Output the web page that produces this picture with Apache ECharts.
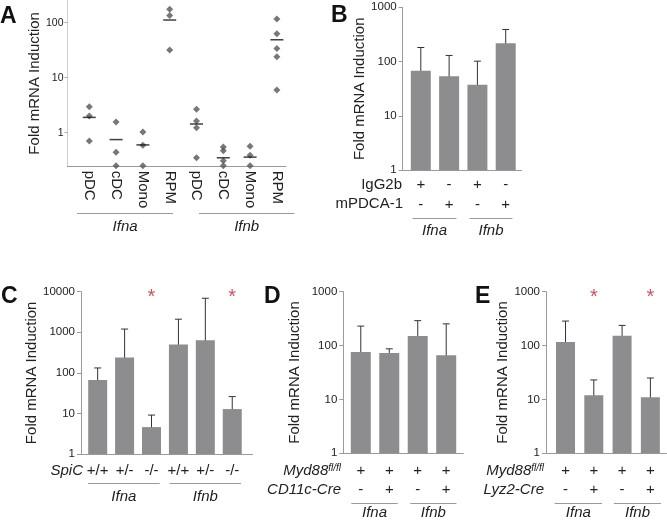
<!DOCTYPE html>
<html><head><meta charset="utf-8">
<script src="https://cdn.jsdelivr.net/npm/echarts@6/dist/echarts.min.js"></script>
<style>html,body{margin:0;padding:0;background:#fff}#c{width:667px;height:520px}</style>
</head><body><div id="c"></div>
<script>
// ---------- DATA ----------
// Panel A (dot plot)
const catsA = ['pDC','cDC','Mono','RPM','pDC','cDC','Mono','RPM'];
const ptsA = [[2.97,2.01,0.71],[1.57,0.44,0.25],[1.03,0.59,0.25],[175,136,32],
              [2.66,1.63,1.23,0.35],[0.55,0.47,0.31,0.25],[0.57,0.39,0.25],[117,63,34,24,6.0]];
const meanA = [1.9,0.75,0.6,112,1.44,0.35,0.36,49];
const ticksA = [1,10,100];
// Panel B
const barB = [68,54,37.5,218];
const loB  = [25,22.6,13.8,123];
const hiB  = [182,130,102,390];
const rowB1 = ['+','-','+','-'];
const rowB2 = ['-','+','-','+'];
// Panel C
const barC = [67,240,4.6,500,640,12.8];
const loC  = [35,49,2.4,124,58,6.5];
const hiC  = [132,1200,9.1,2100,6900,26];
const rowC1 = ['+/+','+/-','-/-','+/+','+/-','-/-'];
const sigC = [0,0,1,0,0,1];
// Panel D
const barD = [76,73,150,66];
const loD  = [25,63,83,17.5];
const hiD  = [230,87,290,253];
const rowD1 = ['+','+','+','+'];
const rowD2 = ['-','+','-','+'];
// Panel E
const barE = [116,12,152,11];
const loE  = [46,6.3,81,4.9];
const hiE  = [285,23,237,25];
const rowE1 = ['+','+','+','+'];
const rowE2 = ['-','+','-','+'];
const sigE = [0,1,0,1];
const genes = ['Ifna','Ifnb'];
const yName = 'Fold mRNA Induction';

// ---------- STYLE ----------
const FONT = "'Liberation Sans', Arial, Helvetica, sans-serif";
const AXIS = '#9a9a9a', BAR = '#8d8d90', TXT = '#222', RED = '#cc2233';

const grids = [], xAxes = [], yAxes = [], series = [], graphics = [];

function makeErr(lo, hi){
  return function(params, api){
    const i = params.dataIndex;
    const x = api.value(0);
    const a = api.coord([x, hi[i]]), b = api.coord([x, lo[i]]);
    const w = 3.5, st = {stroke:'#333', lineWidth:1};
    return {type:'group', children:[
      {type:'line', shape:{x1:a[0],y1:a[1],x2:b[0],y2:b[1]}, style:st},
      {type:'line', shape:{x1:a[0]-w,y1:a[1],x2:a[0]+w,y2:a[1]}, style:st},
      {type:'line', shape:{x1:b[0]-w,y1:b[1],x2:b[0]+w,y2:b[1]}, style:st}
    ]};
  };
}

function barPanel(p){
  const g = grids.length;
  grids.push({left:p.left, top:p.top, width:p.width, height:p.height});
  const idx = p.bars.map((_, i) => i);
  xAxes.push({gridIndex:g, type:'value', min:p.xmin, max:p.xmax,
    axisLine:{show:true, onZero:false, lineStyle:{color:AXIS, width:1}}, axisTick:{show:false}, splitLine:{show:false},
    axisLabel:{customValues:idx, formatter:(v)=>p.rows.map(r=>r[Math.round(v)]).join('\n'),
      fontSize:15, lineHeight:p.lh, margin:p.lm, color:TXT, fontFamily:FONT}});
  yAxes.push({gridIndex:g, type:'log', logBase:10, min:1, max:p.ymax,
    axisLine:{show:true, onZero:false, lineStyle:{color:AXIS, width:1}},
    axisTick:{show:true, length:4, lineStyle:{color:AXIS}}, splitLine:{show:false},
    axisLabel:{fontSize:11.5, margin:6, color:TXT, fontFamily:FONT, formatter:(v)=>String(Math.round(v))},
    name:yName, nameLocation:'middle', nameGap:p.nameGap,
    nameTextStyle:{fontSize:15, color:TXT, fontFamily:FONT}});
  series.push({type:'bar', xAxisIndex:g, yAxisIndex:g, barWidth:p.bw, silent:true,
    itemStyle:{color:BAR}, data:p.bars.map((v,i)=>[i,v])});
  series.push({type:'custom', xAxisIndex:g, yAxisIndex:g, renderItem:makeErr(p.lo, p.hi), silent:true, clip:false,
    data:p.lo.map((l,i)=>[i,l,p.hi[i]])});
  if (p.sig){
    series.push({type:'scatter', xAxisIndex:g, yAxisIndex:g, silent:true, symbolSize:2, clip:false,
      itemStyle:{color:'rgba(0,0,0,0)'},
      label:{show:true, formatter:'*', position:'inside', offset:[0,6], color:RED, fontSize:20, fontFamily:FONT},
      data:p.sig.map((s,i)=>s?[i,p.ymax]:null).filter(d=>d)});
  }
}

function groupLabel(name, x0, x1, yLine, margin){
  const g = grids.length;
  grids.push({left:x0, width:x1-x0, top:yLine-10, height:10});
  xAxes.push({gridIndex:g, type:'category', data:[name], boundaryGap:true,
    axisLine:{show:true, lineStyle:{color:AXIS, width:1}}, axisTick:{show:false},
    axisLabel:{margin:margin, fontSize:15, fontStyle:'italic', color:TXT, fontFamily:FONT}});
  yAxes.push({gridIndex:g, type:'value', show:false});
}

function txt(text, x, y, opt){
  graphics.push({type:'text', x:x, y:y, silent:true, style:Object.assign({text:text, fill:TXT,
    fontSize:15, fontFamily:FONT, align:'right', verticalAlign:'middle'}, opt||{})});
}

// ---------- PANEL A ----------
{
  const g = grids.length;
  grids.push({left:67.5, top:0, width:218.5, height:166.7});
  xAxes.push({gridIndex:g, type:'value', min:-0.813, max:7.34,
    axisLine:{show:true, onZero:false, lineStyle:{color:AXIS, width:1}}, axisTick:{show:false}, splitLine:{show:false},
    axisLabel:{customValues:catsA.map((_,i)=>i), formatter:(v)=>catsA[Math.round(v)], rotate:-90,
      fontSize:15, margin:4, color:TXT, fontFamily:FONT}});
  yAxes.push({gridIndex:g, type:'log', logBase:10, min:0.241, max:259,
    axisLine:{show:true, onZero:false, lineStyle:{color:'#cfcfcf', width:1}},
    axisTick:{show:true, length:3, customValues:ticksA, lineStyle:{color:'#aaa'}}, splitLine:{show:false},
    axisLabel:{customValues:ticksA, fontSize:10.5, margin:4, color:TXT, fontFamily:FONT, formatter:(v)=>String(Math.round(v))},
    name:yName, nameLocation:'middle', nameGap:23, nameTextStyle:{fontSize:15, color:TXT, fontFamily:FONT}});
  const pts = [];
  ptsA.forEach((arr,i)=>arr.forEach(v=>pts.push([i,v])));
  series.push({type:'scatter', xAxisIndex:g, yAxisIndex:g, symbol:'diamond', symbolSize:7, silent:true,
    itemStyle:{color:'#555'}, data:pts});
  series.push({type:'scatter', xAxisIndex:g, yAxisIndex:g, symbol:'rect', symbolSize:[13,1.5], silent:true,
    itemStyle:{color:'#111'}, data:meanA.map((v,i)=>[i,v])});
  groupLabel(genes[0], 77.5, 172.7, 213.3, 6);
  groupLabel(genes[1], 199.3, 294, 213.3, 6);
}

// ---------- PANELS B–E ----------
barPanel({left:402.7, top:7.3, width:119, height:163, xmin:-0.64, xmax:3.565, ymax:1000,
  bars:barB, lo:loB, hi:hiB, rows:[rowB1,rowB2], lh:20, lm:4.2, bw:20, nameGap:30});
groupLabel(genes[0], 413, 456, 218.3, 5);
groupLabel(genes[1], 470, 512, 218.3, 5);
txt('IgG2b', 402, 184.5);
txt('mPDCA-1', 403, 204);

barPanel({left:81, top:291.7, width:171.7, height:162.3, xmin:-0.62, xmax:5.76, ymax:10000,
  bars:barC, lo:loC, hi:hiC, rows:[rowC1], sig:sigC, lh:20, lm:6.7, bw:19, nameGap:41});
groupLabel(genes[0], 88.3, 159.3, 483.7, 6);
groupLabel(genes[1], 170, 240.7, 483.7, 6);
txt('SpiC', 83, 470.7, {fontStyle:'italic'});

barPanel({left:343.3, top:291.7, width:120, height:161.6, xmin:-0.614, xmax:3.6, ymax:1000,
  bars:barD, lo:loD, hi:hiD, rows:[rowD1,rowD2], lh:19.5, lm:7.6, bw:20, nameGap:41});
groupLabel(genes[0], 351.7, 397.3, 505, 2);
groupLabel(genes[1], 410.7, 456, 505, 2);

barPanel({left:546, top:291.7, width:120.5, height:161.6, xmin:-0.69, xmax:3.57, ymax:1000,
  bars:barE, lo:loE, hi:hiE, rows:[rowE1,rowE2], sig:sigE, lh:19.5, lm:7.6, bw:19, nameGap:33.5});
groupLabel(genes[0], 555, 601.7, 505, 2);
groupLabel(genes[1], 614.3, 660.7, 505, 2);

const richMyd = {a:{fontSize:15, fontStyle:'italic', fontFamily:FONT, fill:TXT, color:TXT},
                 b:{fontSize:10, fontStyle:'italic', fontFamily:FONT, fill:TXT, color:TXT, verticalAlign:'top'}};
txt('{a|Myd88}{b|fl/fl}', 341, 470.7, {rich:richMyd});
txt('CD11c-Cre', 341, 490, {fontStyle:'italic'});
txt('{a|Myd88}{b|fl/fl}', 544, 470.7, {rich:richMyd});
txt('Lyz2-Cre', 544, 490, {fontStyle:'italic'});

// panel letters
[['A',0,5],['B',331,4],['C',1,285],['D',264,285],['E',475,285]].forEach(l=>{
  graphics.push({type:'text', x:l[1], y:l[2], silent:true,
    style:{text:l[0], fontSize:23, fontWeight:'bold', fontFamily:FONT, fill:'#111', align:'left', verticalAlign:'top'}});
});

const chart = echarts.init(document.getElementById('c'), null, {renderer:'canvas'});
chart.setOption({animation:false, backgroundColor:'#fff', grid:grids, xAxis:xAxes, yAxis:yAxes,
  series:series, graphic:graphics});
</script></body></html>
